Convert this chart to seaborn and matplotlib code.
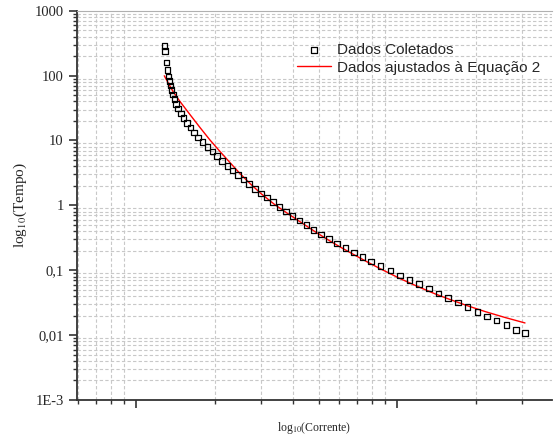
import numpy as np
import pandas as pd
import matplotlib
matplotlib.use("Agg")
import matplotlib.pyplot as plt
from matplotlib.ticker import LogLocator, NullFormatter
import seaborn as sns

# data (x arbitrary decades, no x tick labels shown)
corrente = [12.83, 12.91, 13.06, 13.22, 13.34, 13.44, 13.55, 13.68, 13.83, 14.02,
            14.23, 14.50, 14.83, 15.20, 15.65, 16.14, 16.67, 17.27, 17.94, 18.75,
            19.59, 20.37, 21.34, 22.36, 23.45, 24.57, 25.74, 27.07, 28.49, 30.16,
            31.66, 33.44, 35.35, 37.50, 39.79, 42.17, 45.01, 47.87, 51.18, 54.80,
            58.78, 63.36, 68.30, 73.60, 79.45, 86.25, 94.03, 102.4, 111.4, 121.1,
            132.2, 144.0, 156.7, 170.8, 186.0, 202.4, 220.4, 240.2, 261.4, 284.7, 308.2]
tempo = [284.8, 238.5, 159.7, 122.9, 96.5, 82.3, 70.1, 59.8, 50.95, 43.45,
         36.77, 31.00, 26.16, 22.14, 18.67, 15.81, 13.23, 11.16, 9.45, 7.97,
         6.75, 5.75, 4.87, 4.08, 3.44, 2.93, 2.52, 2.15, 1.80, 1.53,
         1.32, 1.12, 0.948, 0.809, 0.689, 0.583, 0.501, 0.421, 0.357, 0.302,
         0.258, 0.218, 0.187, 0.159, 0.136, 0.116, 0.0989, 0.0834, 0.0706, 0.0609,
         0.0519, 0.0441, 0.0373, 0.0316, 0.0271, 0.0229, 0.0195, 0.0167, 0.0142, 0.0121, 0.0107]

corrente_fit = [12.83, 13.82, 14.74, 16.09, 17.58, 19.20, 20.97, 22.89, 25.00, 27.31,
                30.08, 34.04, 38.85, 44.35, 49.28, 55.26, 61.43, 68.89, 76.56, 85.86,
                102.4, 119.0, 139.4, 159.1, 184.9, 216.6, 258.4, 308.2]
tempo_fit = [99.3, 57.7, 39.77, 25.07, 15.81, 10.14, 6.75, 4.56, 3.09, 2.17,
             1.52, 1.02, 0.709, 0.497, 0.376, 0.282, 0.220, 0.170, 0.135, 0.106,
             0.0745, 0.0567, 0.0433, 0.0354, 0.0285, 0.0231, 0.0187, 0.0154]

yticks = [1e-3, 1e-2, 1e-1, 1, 10, 100, 1000]
yticklabels = ["1E-3", "0,01", "0,1", "1", "10", "100", "1000"]

df = pd.DataFrame({"Corrente": corrente, "Tempo": tempo})
df_fit = pd.DataFrame({"Corrente": corrente_fit, "Tempo": tempo_fit})

sns.set_style("ticks")
plt.rcParams["font.family"] = ["Liberation Serif", "DejaVu Serif"]
plt.rcParams["mathtext.fontset"] = "stix"

fig = plt.figure(figsize=(5.54, 4.41), dpi=100)
ax = fig.add_axes([77/554, 1 - 400/441, 475/554, (400 - 10.7)/441])

sns.scatterplot(data=df, x="Corrente", y="Tempo", marker="s", s=16,
                facecolor="none", edgecolor="black", linewidth=0.9,
                label="Dados Coletados", ax=ax, zorder=3)
sns.lineplot(data=df_fit, x="Corrente", y="Tempo", color="red", linewidth=1.0,
             label="Dados ajustados à Equação 2", ax=ax, sort=False, zorder=2)

ax.set_xscale("log")
ax.set_yscale("log")
ax.set_xlim(5.945, 391)
ax.set_ylim(1e-3, 1e3)

ax.xaxis.set_major_locator(LogLocator(base=10))
ax.xaxis.set_minor_locator(LogLocator(base=10, subs=np.arange(2, 10)))
ax.xaxis.set_major_formatter(NullFormatter())
ax.xaxis.set_minor_formatter(NullFormatter())
ax.set_yticks(yticks)
ax.set_yticklabels(yticklabels)
ax.yaxis.set_minor_locator(LogLocator(base=10, subs=np.arange(2, 10)))
ax.yaxis.set_minor_formatter(NullFormatter())

ax.tick_params(which="major", direction="out", length=6, width=1.2, labelsize=10.5, color="#333333")
ax.tick_params(which="minor", direction="out", length=3, width=1.0, color="#333333")

ax.grid(False)
ax.grid(which="minor", color="#c8c8c8", linestyle=(0, (3, 2)), linewidth=0.8)

for side in ["left", "bottom"]:
    ax.spines[side].set_linewidth(1.3)
    ax.spines[side].set_color("#333333")
ax.spines["top"].set_color("#b0b0b0")
ax.spines["top"].set_linewidth(0.8)
ax.spines["right"].set_visible(False)

ax.set_xlabel(r"log$_{10}$(Corrente)", fontsize=8.5, labelpad=5)
ax.set_ylabel(r"log$_{10}$(Tempo)", fontsize=11, labelpad=4)

leg = ax.legend(loc="upper left", bbox_to_anchor=(0.463, 0.917), frameon=False,
                borderpad=0, borderaxespad=0, handlelength=2.2, handletextpad=0.4,
                labelspacing=0.25, prop={"family": "Liberation Sans", "size": 11})

fig.savefig("out.png", dpi=100)
